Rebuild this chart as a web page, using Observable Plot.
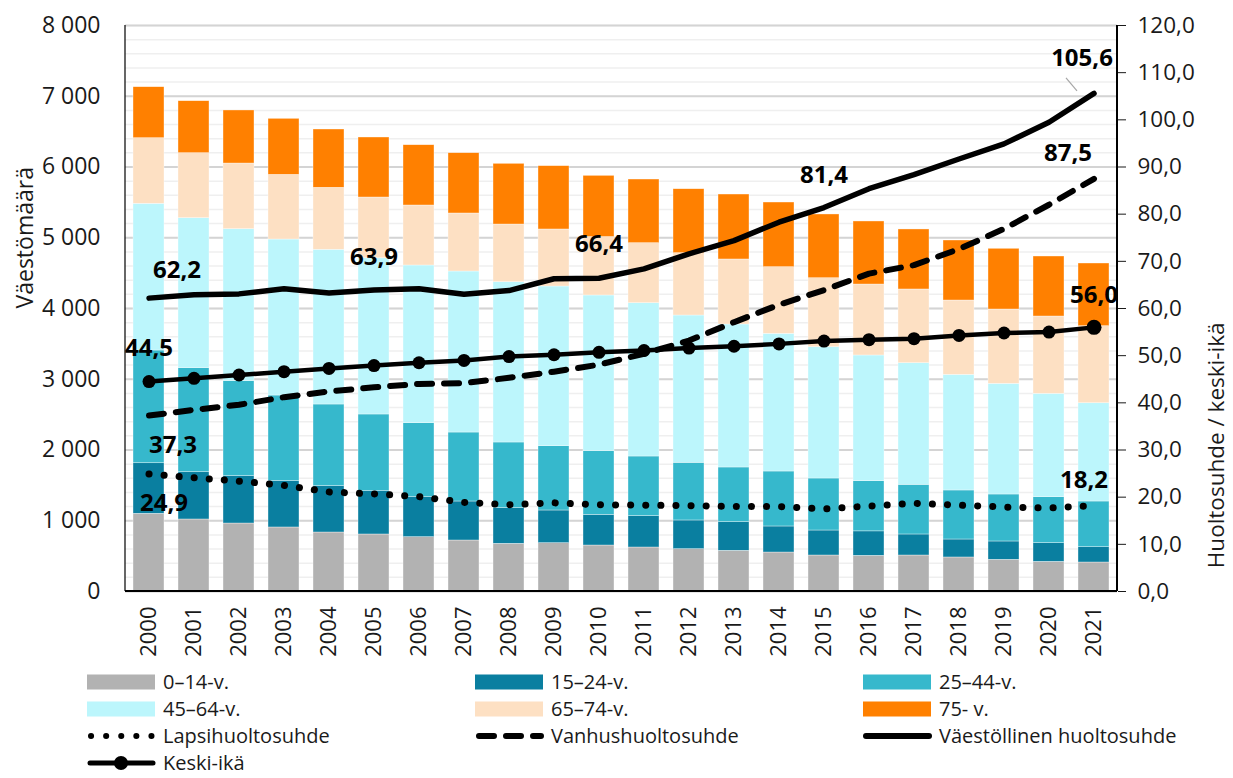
<!DOCTYPE html>
<html><head><meta charset="utf-8">
<script src="https://cdn.jsdelivr.net/npm/d3@7"></script>
<script src="https://cdn.jsdelivr.net/npm/@observablehq/plot@0.6"></script>
<style>
body{margin:0;background:#fff;font-family:"Open Sans",sans-serif;color:#1a1a1a;overflow:hidden;}
#chart{height:668px;}
#legend{position:relative;height:110px;font-size:20px;}
.li{position:absolute;display:flex;align-items:center;height:20px;line-height:20px;white-space:nowrap;}
.li span{line-height:20px;}
.li svg{margin-right:6px;}
</style></head><body><div id="chart"></div><div id="legend"></div>
<script>
const years = ["2000","2001","2002","2003","2004","2005","2006","2007","2008","2009","2010","2011","2012","2013","2014","2015","2016","2017","2018","2019","2020","2021"];
const groupNames = ["0–14-v.","15–24-v.","25–44-v.","45–64-v.","65–74-v.","75- v."];
const groupColors = ["#b2b2b2","#0a7fa0","#36b8cc","#bcf6fc","#fde0c3","#ff8000"];
const age0_14  = [1098,1018,961,905,834,806,768,721,674,683,650,622,598,575,551,509,504,509,481,448,419,410];
const age15_24 = [715,668,669,655,655,612,565,551,504,462,434,443,406,405,368,353,346,297,254,259,264,216];
const age25_44 = [1593,1471,1343,1210,1154,1084,1046,975,928,909,899,843,815,773,777,735,709,702,693,664,650,646];
const age45_64 = [2074,2120,2148,2205,2187,2208,2229,2276,2266,2257,2201,2167,2082,2021,1946,1856,1777,1719,1634,1564,1461,1389];
const age65_74 = [927,918,928,914,876,859,848,820,815,806,826,848,881,919,942,975,1003,1042,1051,1051,1093,1089];
const age75    = [721,735,750,792,824,848,852,852,858,895,865,900,904,918,914,901,891,848,848,858,848,886];
const lapsihuoltosuhde = [24.9,24.1,23.4,22.5,21.1,20.7,20.1,18.9,18.4,18.8,18.4,18.3,18.2,18.0,18.0,17.5,18.1,18.7,18.3,17.9,17.7,18.2];
const vanhushuoltosuhde = [37.3,38.5,39.6,41.2,42.4,43.3,44.0,44.2,45.3,46.6,48.1,50.4,53.2,57.1,60.8,63.9,67.4,69.2,72.6,76.9,82.0,87.5];
const vaestollinenHuoltosuhde = [62.2,62.9,63.1,64.2,63.3,63.9,64.2,63.0,63.8,66.3,66.4,68.4,71.6,74.4,78.3,81.4,85.4,88.4,91.7,94.9,99.5,105.6];
const keskiIka = [44.5,45.2,45.9,46.6,47.3,47.9,48.5,49.0,49.8,50.2,50.7,51.1,51.6,52.0,52.5,53.1,53.4,53.6,54.3,54.8,55.0,56.0];
const leftTicks = [0,1000,2000,3000,4000,5000,6000,7000,8000];
const rightTicks = [0,10,20,30,40,50,60,70,80,90,100,110,120];

const groups = [age0_14, age15_24, age25_44, age45_64, age65_74, age75];
const K = 8000 / 120; // right axis -> left axis
const rows = years.flatMap((y, i) => groups.map((g, j) => ({year: y, group: groupNames[j], value: g[i]})));
const lineRows = years.map((y, i) => ({
  year: y,
  lapsi: lapsihuoltosuhde[i] * K,
  vanhus: vanhushuoltosuhde[i] * K,
  vaesto: vaestollinenHuoltosuhde[i] * K,
  keski: keskiIka[i] * K
}));
const fmt1 = v => v.toFixed(1).replace(".", ",");
const labels = [
  {arr: vaestollinenHuoltosuhde, i: 0, dx: 28, dy: -28},
  {arr: vaestollinenHuoltosuhde, i: 5, dx: 0, dy: -33},
  {arr: vaestollinenHuoltosuhde, i: 10, dx: 0, dy: -34},
  {arr: vaestollinenHuoltosuhde, i: 15, dx: 0, dy: -32},
  {arr: vaestollinenHuoltosuhde, i: 21, dx: -12, dy: -35},
  {arr: vanhushuoltosuhde, i: 21, dx: -26, dy: -25},
  {arr: vanhushuoltosuhde, i: 0, dx: 24, dy: 30},
  {arr: lapsihuoltosuhde, i: 0, dx: 15, dy: 29},
  {arr: keskiIka, i: 0, dx: 0, dy: -33},
  {arr: keskiIka, i: 21, dx: 0, dy: -32},
  {arr: lapsihuoltosuhde, i: 21, dx: -10, dy: -25}
];

const frameLines = (index, scales, values, dim) => {
  const g = d3.create("svg:g");
  const l = dim.marginLeft, r = dim.width - dim.marginRight, t = dim.marginTop, b = dim.height - dim.marginBottom;
  g.append("line").attr("x1", l).attr("x2", l).attr("y1", t).attr("y2", b).attr("stroke", "#000").attr("stroke-width", 1.2);
  g.append("line").attr("x1", r).attr("x2", r).attr("y1", t).attr("y2", b).attr("stroke", "#000").attr("stroke-width", 2);
  g.append("line").attr("x1", l).attr("x2", r).attr("y1", b).attr("y2", b).attr("stroke", "#000").attr("stroke-width", 2);
  return g.node();
};
const leader = (index, scales) => {
  const x = scales.x("2021");
  const y = scales.y(vaestollinenHuoltosuhde[21] * K);
  return d3.create("svg:line").attr("x1", x - 12).attr("y1", y - 15).attr("x2", x - 1).attr("y2", y - 2)
    .attr("stroke", "#a6a6a6").attr("stroke-width", 1.2).node();
};

const marks = [
  Plot.gridY(d3.range(0, 8001, 200), {stroke: "#efefef", strokeOpacity: 1, strokeWidth: 1.5}),
  Plot.gridY(leftTicks, {stroke: "#d4d4d4", strokeOpacity: 1, strokeWidth: 2}),
  Plot.barY(rows, {x: "year", y: "value", fill: "group", stroke: "white", strokeWidth: 0.6, strokeOpacity: 0.6}),
  Plot.line(lineRows, {x: "year", y: "lapsi", stroke: "#000", strokeWidth: 7, strokeDasharray: "0.1,15", strokeLinecap: "round"}),
  Plot.line(lineRows, {x: "year", y: "vanhus", stroke: "#000", strokeWidth: 6, strokeDasharray: "15,12", strokeLinecap: "round"}),
  Plot.line(lineRows, {x: "year", y: "vaesto", stroke: "#000", strokeWidth: 5.5, strokeLinecap: "round"}),
  Plot.line(lineRows, {x: "year", y: "keski", stroke: "#000", strokeWidth: 4.5}),
  Plot.dot(lineRows.slice(0, 21), {x: "year", y: "keski", r: 6.5, fill: "#000", stroke: "none"}),
  Plot.dot(lineRows.slice(21), {x: "year", y: "keski", r: 7.5, fill: "#000", stroke: "none"}),
  Plot.axisY(leftTicks, {anchor: "left", tickSize: 0, tickPadding: 25, label: null,
    tickFormat: d => d3.format(",")(d).replace(/,/g, "\u00a0"), fontSize: 23}),
  Plot.axisY(rightTicks.map(v => v * K), {anchor: "right", tickSize: 8, tickPadding: 12, label: null,
    tickFormat: d => fmt1(Math.round(d / K)), fontSize: 22.5}),
  Plot.axisX({tickRotate: -90, tickSize: 0, tickPadding: 15, label: null, fontSize: 22}),
  Plot.text(["Väestömäärä"], {frameAnchor: "left", dx: -100, rotate: -90, fontSize: 23}),
  Plot.text(["Huoltosuhde / keski-ikä"], {frameAnchor: "right", dx: 99, dy: 14, rotate: -90, fontSize: 22.5}),
  frameLines,
  leader,
  ...labels.map(L => Plot.text([L], {x: () => years[L.i], y: d => d.arr[d.i] * K, text: d => fmt1(d.arr[d.i]),
    dx: L.dx, dy: L.dy, fontWeight: "bold", fontSize: 24, fill: "#000"}))
];

const chart = Plot.plot({
  width: 1233, height: 668,
  marginLeft: 125, marginRight: 116, marginTop: 25, marginBottom: 77,
  style: {fontFamily: "'Open Sans', sans-serif", fontSize: "22px", color: "#1a1a1a", background: "white"},
  x: {type: "band", domain: years, paddingInner: 0.31, paddingOuter: 0.17, label: null},
  y: {domain: [0, 8000], label: null},
  color: {domain: groupNames, range: groupColors},
  marks
});
document.getElementById("chart").appendChild(chart);

// Legend
const legend = document.getElementById("legend");
const cols = [87, 475, 863];
const rowY = [3.5, 30.8, 58.1, 85.4];
const items = [];
groupNames.forEach((n, j) => items.push({name: n, type: "box", color: groupColors[j]}));
items.push({name: "Lapsihuoltosuhde", type: "dot"});
items.push({name: "Vanhushuoltosuhde", type: "dash"});
items.push({name: "Väestöllinen huoltosuhde", type: "solid"});
items.push({name: "Keski-ikä", type: "marker"});
items.forEach((it, k) => {
  const div = document.createElement("div");
  div.className = "li";
  div.style.left = cols[k % 3] + "px";
  div.style.top = rowY[Math.floor(k / 3)] + "px";
  const svg = d3.create("svg").attr("width", 70).attr("height", 20).style("overflow", "visible");
  if (it.type === "box") svg.append("rect").attr("x", 0).attr("y", 2.5).attr("width", 68).attr("height", 15).attr("fill", it.color);
  else {
    const ln = svg.append("line").attr("x1", 3).attr("x2", 66).attr("y1", 10).attr("y2", 10).attr("stroke", "#000");
    if (it.type === "dot") ln.attr("stroke-width", 6).attr("stroke-dasharray", "0.1,15").attr("stroke-linecap", "round").attr("x1", 4).attr("x2", 65);
    if (it.type === "dash") ln.attr("stroke-width", 6).attr("stroke-dasharray", "15,12").attr("stroke-linecap", "round").attr("x1", 4);
    if (it.type === "solid") ln.attr("stroke-width", 6).attr("stroke-linecap", "round");
    if (it.type === "marker") { ln.attr("stroke-width", 5).attr("stroke-linecap", "round"); svg.append("circle").attr("cx", 34).attr("cy", 10).attr("r", 7).attr("fill", "#000"); }
  }
  div.appendChild(svg.node());
  const sp = document.createElement("span");
  sp.textContent = it.name;
  div.appendChild(sp);
  legend.appendChild(div);
});
</script></body></html>
